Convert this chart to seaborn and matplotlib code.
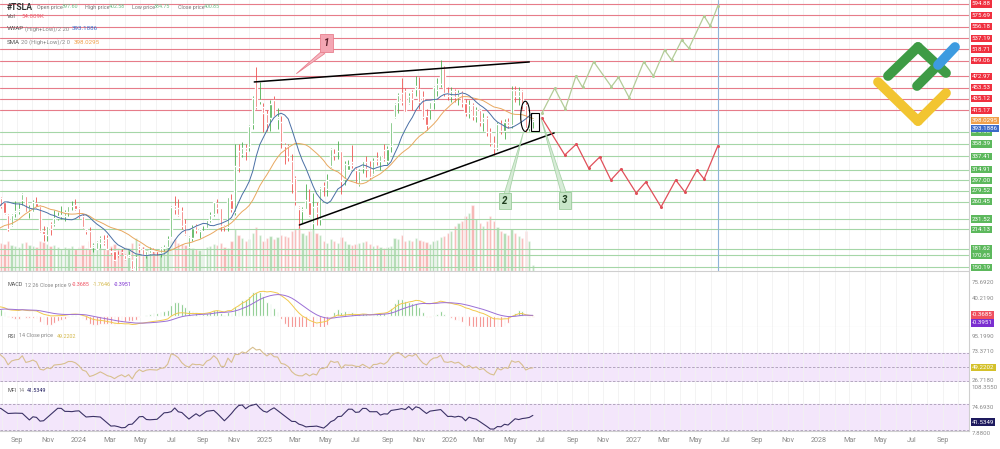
import numpy as np
import pandas as pd
import seaborn as sns
import matplotlib.pyplot as plt
import matplotlib.dates as mdates
from matplotlib.patches import Ellipse, Rectangle, Polygon
from matplotlib.lines import Line2D

sns.set_theme(style="white")
plt.rcParams['font.family'] = ['Roboto', 'DejaVu Sans']

# weekly candles, Feb 2023 .. Jun 2026 (first weeks only warm up the indicators)
opens = [196, 199, 204, 202, 198, 177, 181, 191, 199, 185, 187, 164, 161, 170, 168, 180, 200, 217, 248, 255, 250, 277, 276, 284, 255, 267,
         260, 239, 221, 242, 245, 264, 270, 243, 244, 258, 253, 211, 205, 223, 223, 234, 237, 236, 243, 253, 255,
         250, 236, 215, 212, 185, 180, 191, 196, 200, 178, 177, 171, 176, 171, 168, 162, 143, 186, 181, 170, 174, 179, 178, 174, 182, 185,
         201, 253, 250, 245, 223, 185, 200, 220, 212, 210, 216, 229, 240, 259, 250, 220, 218, 264, 244, 346, 341, 352, 353, 392, 465, 431, 420,
         409, 403, 432, 400, 396, 356, 355, 330, 300, 252, 245, 249, 260, 224, 253, 231, 288, 282, 321, 342, 346, 346, 299, 315, 327, 320,
         291, 318, 328, 319, 308, 335, 330, 348, 330, 355, 404, 430, 444, 447, 428, 446, 451, 452, 438, 406, 417, 430, 450, 460, 487, 444,
         440, 448, 437, 445, 428, 410, 425, 405, 415, 395, 402, 378, 360, 352, 392, 380, 396, 390, 450, 440, 448, 425, 385, 397.60]
highs = [218, 217, 210, 211, 199, 186, 200, 207, 203, 190, 190, 165, 171, 175, 181, 194, 217, 246, 262, 276, 264, 284, 299, 292, 276, 269,
         261, 240, 240, 262, 258, 276, 271, 256, 264, 268, 256, 220, 220, 226, 246, 244, 253, 246, 254, 262, 265,
         251, 240, 215, 218, 191, 194, 202, 205, 205, 183, 177, 177, 181, 172, 178, 162, 171, 188, 185, 177, 185, 182, 178, 184, 188, 203,
         253, 271, 266, 252, 232, 203, 222, 223, 215, 220, 232, 243, 261, 265, 250, 222, 262, 273, 358, 358, 361, 358, 390, 439, 488, 463, 428,
         416, 433, 439, 419, 405, 360, 359, 342, 305, 253, 251, 291, 283, 275, 261, 286, 294, 307, 351, 350, 363, 347, 330, 332, 357, 320,
         316, 330, 338, 330, 335, 345, 340, 358, 355, 396, 428, 444, 470, 453, 445, 450, 474, 471, 448, 418, 430, 456, 470, 500, 490, 455,
         455, 452, 450, 448, 435, 432, 428, 420, 418, 410, 405, 385, 372, 395, 398, 400, 402, 456, 456, 454, 450, 430, 400, 402.58]
lows = [187, 194, 192, 186, 172, 168, 176, 186, 183, 179, 162, 152, 158, 166, 164, 175, 191, 216, 245, 252, 240, 262, 267, 255, 255, 250,
        240, 212, 220, 235, 240, 255, 244, 234, 244, 250, 210, 194, 195, 204, 219, 230, 231, 228, 236, 246, 247,
        234, 217, 207, 180, 175, 180, 183, 188, 180, 172, 160, 168, 173, 163, 166, 146, 148, 175, 171, 166, 173, 174, 171, 168, 178, 181,
        201, 240, 237, 214, 205, 182, 195, 208, 200, 209, 214, 227, 237, 242, 212, 211, 212, 244, 238, 311, 337, 332, 347, 384, 418, 426, 379,
        380, 380, 405, 384, 351, 324, 330, 276, 256, 217, 224, 250, 236, 214, 222, 222, 270, 271, 320, 331, 333, 273, 289, 316, 317, 292,
        288, 309, 302, 299, 306, 323, 315, 329, 325, 345, 403, 411, 425, 413, 426, 415, 439, 417, 400, 382, 400, 418, 440, 455, 440, 432,
        430, 430, 425, 420, 405, 402, 398, 395, 388, 380, 372, 355, 340, 348, 375, 366, 385, 386, 430, 425, 418, 378, 380, 384.75]
closes = [196, 208, 196, 198, 173, 180, 190, 207, 185, 185, 165, 164, 170, 168, 180, 193, 214, 244, 260, 256, 262, 274, 281, 260, 266, 253,
          242, 215, 238, 245, 248, 274, 244, 250, 260, 251, 212, 207, 219, 214, 234, 236, 238, 243, 253, 253, 248,
          237, 218, 212, 183, 187, 193, 200, 191, 180, 175, 163, 170, 175, 164, 171, 147, 168, 181, 171, 177, 179, 178, 177, 183, 184, 197,
          252, 248, 239, 220, 207, 201, 216, 213, 214, 210, 230, 238, 261, 250, 219, 218, 269, 248, 321, 320, 352, 346, 389, 436, 421, 431, 410,
          394, 426, 406, 404, 361, 355, 337, 293, 262, 249, 248, 263, 239, 252, 241, 284, 287, 298, 349, 339, 346, 295, 325, 322, 323, 315,
          313, 329, 316, 302, 329, 330, 340, 333, 350, 395, 426, 441, 429, 413, 439, 434, 457, 429, 404, 391, 430, 455, 460, 487, 444, 440,
          448, 437, 445, 428, 410, 425, 405, 415, 395, 402, 378, 360, 352, 392, 380, 396, 390, 450, 440, 448, 425, 385, 397.60, 400.85]
volumes = [32, 30, 28, 30, 33, 31, 30, 29, 28, 27, 30, 29, 28, 26, 27, 29, 31, 35, 36, 34, 33, 32, 34, 30, 29, 28,
           27, 30, 26, 25, 24, 28, 29, 26, 25, 24, 30, 29, 27, 25, 26, 24, 22, 24, 23, 25, 22,
           24, 26, 23, 30, 27, 24, 23, 22, 24, 25, 27, 23, 22, 24, 23, 28, 33, 28, 24, 22, 21, 20, 21, 22, 24, 25, 30,
           32, 28, 27, 26, 27, 23, 22, 21, 22, 24, 25, 27, 26, 28, 24, 23, 30, 42, 36, 33, 30, 32, 38, 44, 36, 30,
           33, 35, 32, 34, 36, 35, 34, 40, 42, 44, 38, 36, 40, 42, 38, 36, 30, 28, 32, 30, 28, 34, 30, 27, 26, 27,
           28, 29, 30, 27, 25, 26, 24, 23, 24, 25, 33, 32, 36, 30, 31, 30, 33, 31, 30, 29, 27, 30, 31, 34, 35, 38,
           40, 45, 48, 50, 55, 58, 66, 52, 48, 45, 50, 55, 50, 44, 40, 38, 36, 42, 38, 35, 33, 40, 30, 6]

red_levels = [594.88, 575.69, 556.18, 537.19, 518.71, 499.06, 472.97, 453.53, 435.12, 415.17]
green_levels = [378.65, 358.39, 337.41, 314.91, 297.00, 279.52, 260.45, 231.52, 214.13, 181.62, 170.65, 150.19]

upper_line_dates = ['2024-12-12', '2026-06-08']
upper_line_prices = [463.1, 496.9]
lower_line_dates = ['2025-03-11', '2026-07-27']
lower_line_prices = [221.4, 376.9]

bull_dates = ['2026-07-03', '2026-07-28', '2026-08-18', '2026-09-08', '2026-09-21', '2026-10-13', '2026-11-17', '2026-12-01',
              '2026-12-22', '2027-01-20', '2027-02-08', '2027-03-02', '2027-03-16', '2027-04-05', '2027-04-19', '2027-05-19',
              '2027-05-31', '2027-06-15']
bull_prices = [410.7, 452.4, 417.4, 473.2, 454.1, 497.4, 455.1, 471.0, 436.5, 497.4, 473.2, 517.1, 500.2, 534.0, 520.0, 574.6,
               557.7, 591.5]
bear_dates = ['2026-07-03', '2026-08-17', '2026-09-09', '2026-10-03', '2026-10-25', '2026-11-16', '2026-12-06', '2027-01-05',
              '2027-01-24', '2027-02-23', '2027-03-24', '2027-04-11', '2027-05-05', '2027-05-19', '2027-06-15']
bear_prices = [402.2, 339.7, 358.3, 317.7, 336.3, 297.4, 316.0, 275.5, 294.1, 251.8, 297.4, 277.2, 314.3, 299.1, 354.9]

df = pd.DataFrame({'o': opens, 'h': highs, 'l': lows, 'c': closes, 'v': volumes},
                  index=pd.date_range('2023-02-06', periods=len(closes), freq='W-MON'))
mid = (df['h'] + df['l']) / 2
df['sma'] = mid.rolling(20).mean()
# the terminal's VWAP line reacts faster than the SMA; a 10-bar weighting follows it best
df['vwap'] = (mid * df['v']).rolling(10).sum() / df['v'].rolling(10).sum()
ema12 = df['c'].ewm(span=12, adjust=False).mean()
ema26 = df['c'].ewm(span=26, adjust=False).mean()
df['macd'] = ema12 - ema26
df['sig'] = df['macd'].ewm(span=9, adjust=False).mean()
df['histo'] = df['macd'] - df['sig']
delta = df['c'].diff()
gain = delta.clip(lower=0).ewm(alpha=1 / 14, adjust=False).mean()
loss = (-delta.clip(upper=0)).ewm(alpha=1 / 14, adjust=False).mean()
df['rsi'] = 100 - 100 / (1 + gain / loss)
tp = (df['h'] + df['l'] + df['c']) / 3
mf = tp * df['v']
pos = mf.where(tp > tp.shift(), 0).rolling(14).sum()
neg = mf.where(tp < tp.shift(), 0).rolling(14).sum()
df['mfi'] = 100 - 100 / (1 + pos / neg)
df = df.loc['2023-07-20':]
d = df.index

GREEN, RED = '#4caf50', '#ef5350'
col = np.where(df['c'] >= df['o'], GREEN, RED)

W, H, R = 1000, 449, 969
fig = plt.figure(figsize=(10, 4.49), dpi=100)


def box(top, bottom):
    return [0, 1 - bottom / H, R / W, (bottom - top) / H]


def dn(s):
    return mdates.date2num(pd.Timestamp(s))


ax = fig.add_axes(box(0, 271))
axm = fig.add_axes(box(272, 327), sharex=ax)
axr = fig.add_axes(box(327, 382), sharex=ax)
axf = fig.add_axes(box(382, 431), sharex=ax)

# volume
axv = ax.twinx()
axv.bar(d, df['v'], width=4.6, color=col, alpha=0.45)
axv.set_ylim(0, df['v'].max() / 0.245)
axv.set_yticks([])
axv.set_zorder(0)
ax.set_zorder(1)
ax.patch.set_visible(False)
for s in axv.spines.values():
    s.set_visible(False)

for lv in red_levels:
    ax.axhline(lv, color='#e67c89', lw=0.8, zorder=1)
for lv in green_levels:
    ax.axhline(lv, color='#a5d6a7', lw=0.8, zorder=1)

ax.vlines(d, df['l'], df['h'], color=col, lw=0.6, zorder=3)
ax.bar(d, (df['c'] - df['o']).abs().clip(lower=0.8), bottom=np.minimum(df['o'], df['c']),
       width=4.2, color=col, zorder=3)
sns.lineplot(x=d, y=df['sma'], ax=ax, color='#e8a860', lw=0.7, zorder=4)
sns.lineplot(x=d, y=df['vwap'], ax=ax, color='#4a6fa5', lw=0.7, zorder=4)

ax.plot(pd.to_datetime(upper_line_dates), upper_line_prices, color='black', lw=1.1, zorder=5)
ax.plot(pd.to_datetime(lower_line_dates), lower_line_prices, color='black', lw=1.1, zorder=5)
ax.plot(pd.to_datetime(bull_dates), bull_prices, color='#b3cc98', lw=0.9, zorder=5, marker='o', ms=1.2)
ax.plot(pd.to_datetime(bear_dates), bear_prices, color='#e0505a', lw=0.9, zorder=5, marker='o', ms=1.2)
ax.axvline(pd.Timestamp('2027-06-15'), color='#8fb3d9', lw=0.8, zorder=2)

ax.add_patch(Ellipse((dn('2026-05-31'), 405), 18, 51, fill=False, ec='black', lw=0.8, zorder=6))
ax.add_patch(Rectangle((dn('2026-06-12'), 380), 16, 31, fill=False, ec='black', lw=0.8, zorder=6))

# callouts
ax.add_patch(Polygon([(dn('2025-03-05'), 477), (dn('2025-04-24'), 515), (dn('2025-04-30'), 511)],
                     closed=True, fc='#f6b8c2', ec='#e8808e', lw=0.6, zorder=6))
ax.text(dn('2025-05-04'), 529, '1', fontsize=7, fontweight='bold', style='italic', color='#5a1f2a',
        ha='center', va='center', zorder=7,
        bbox=dict(boxstyle='square,pad=0.4', fc='#f4a6b3', ec='#e8808e', lw=0.6))
ax.add_patch(Polygon([(dn('2026-05-27'), 377), (dn('2026-04-17'), 268), (dn('2026-04-27'), 268)],
                     closed=True, fc='#cfe8cf', ec='#9ccc9c', lw=0.6, zorder=6, alpha=0.8))
ax.text(dn('2026-04-21'), 262, '2', fontsize=7, fontweight='bold', style='italic', color='#1e3d1e',
        ha='center', va='center', zorder=7,
        bbox=dict(boxstyle='square,pad=0.35', fc='#c8e6c9', ec='#9ccc9c', lw=0.6))
ax.add_patch(Polygon([(dn('2026-07-01'), 402), (dn('2026-08-12'), 268), (dn('2026-08-23'), 268)],
                     closed=True, fc='#cfe8cf', ec='#9ccc9c', lw=0.6, zorder=6, alpha=0.8))
ax.text(dn('2026-08-17'), 263, '3', fontsize=7, fontweight='bold', style='italic', color='#1e3d1e',
        ha='center', va='center', zorder=7,
        bbox=dict(boxstyle='square,pad=0.35', fc='#c8e6c9', ec='#9ccc9c', lw=0.6))

ax.set_ylim(143.65, 601.6)
ax.set_xlim(pd.Timestamp('2023-07-29'), pd.Timestamp('2028-10-23'))

# MACD (histogram drawn at 3x, as it is scaled on the reference terminal)
axm.bar(d, df['histo'] * 3, width=3.6, color=np.where(df['histo'] >= 0, GREEN, RED), alpha=0.9)
sns.lineplot(x=d, y=df['macd'], ax=axm, color='#f2c94c', lw=0.7)
sns.lineplot(x=d, y=df['sig'], ax=axm, color='#9b6fd6', lw=0.7)
axm.set_ylim(-24.1, 97.9)

# RSI
axr.axhspan(30, 70, color='#f3e6fb', zorder=0)
for lv in (30, 50, 70):
    axr.axhline(lv, color='#a89bb5', lw=0.6, ls=(0, (3, 2)))
sns.lineplot(x=d, y=df['rsi'], ax=axr, color='#d8bf8f', lw=0.8)
axr.set_ylim(28.3, 108.3)

# MFI
axf.axhspan(20, 80, color='#f3e6fb', zorder=0)
for lv in (20, 80):
    axf.axhline(lv, color='#a89bb5', lw=0.6, ls=(0, (3, 2)))
sns.lineplot(x=d, y=df['mfi'], ax=axf, color='#3b3266', lw=0.8)
axf.set_ylim(17.6, 130)

months = mdates.MonthLocator(bymonth=[1, 3, 5, 7, 9, 11])
axf.xaxis.set_major_locator(months)
axf.xaxis.set_minor_locator(mdates.MonthLocator())
axf.xaxis.set_major_formatter(plt.FuncFormatter(
    lambda v, p: mdates.num2date(v).strftime('%Y') if mdates.num2date(v).month == 1 else mdates.num2date(v).strftime('%b')))
for a in (ax, axm, axr, axf):
    a.set_xlabel('')
    a.set_ylabel('')
    a.set_yticks([])
    a.grid(axis='x', which='both', color='#f1f1f1', lw=0.6)
    for s in ('left', 'top'):
        a.spines[s].set_visible(False)
    a.spines['right'].set_color('#cfcfcf')
    a.spines['bottom'].set_color('#cfcfcf')
    a.spines['right'].set_linewidth(0.8)
    a.spines['bottom'].set_linewidth(0.8)
    a.tick_params(axis='x', which='both', length=0)
for a in (ax, axm, axr):
    a.tick_params(labelbottom=False)
axf.tick_params(axis='x', labelsize=5.2, labelcolor='#8a8a8a', pad=4)


def tag(a, y, text, fc, tc='white'):
    a.text(1.003, y, text, transform=a.get_yaxis_transform(), fontsize=4.4, color=tc,
           ha='left', va='center', clip_on=False,
           bbox=dict(boxstyle='square,pad=0.18', fc=fc, ec='none') if fc else None)


for lv in red_levels:
    tag(ax, lv, f'{lv:.2f}', '#f0303f')
for lv in green_levels:
    tag(ax, lv, f'{lv:.2f}', '#5cb85c')
tag(ax, 398.0295, '398.0295', '#f0a04b')
tag(ax, 385.0, '393.1886', '#3c6bc9')
tag(axm, 75.692, '75.6920', None, '#8a8a8a')
tag(axm, 40.219, '40.2190', None, '#8a8a8a')
tag(axm, 2.6, '-0.3685', '#ef4f5f')
tag(axm, -15.2, '-0.3951', '#7b2fd0')
tag(axr, 95.199, '95.1990', None, '#8a8a8a')
tag(axr, 73.371, '73.3710', None, '#8a8a8a')
tag(axr, 49.2202, '49.2202', '#d4c12a')
tag(axr, 30.0, '26.7180', None, '#8a8a8a')
tag(axf, 118.5, '108.3550', None, '#8a8a8a')
tag(axf, 72.6, '74.6930', None, '#8a8a8a')
tag(axf, 38.2, '41.5349', '#1e1a5e')
tag(axf, 11.0, '7.8800', None, '#8a8a8a')

# header
fs = 3.9
fig.text(7 / W, 1 - 7 / H, '#TSLA', fontsize=6.2, fontweight='bold', color='#333333', va='center')
for name, nx, val, vx in [('Open price', 37, '397.60', 62), ('High price', 85, '402.58', 109),
                          ('Low price', 132, '384.75', 154), ('Close price', 178, '400.85', 204)]:
    fig.text(nx / W, 1 - 7 / H, name, fontsize=fs, color='#777777', va='center')
    fig.text(vx / W, 1 - 7 / H, val, fontsize=fs, color='#6cc08a', va='center')
fig.text(7 / W, 1 - 17 / H, 'Vol', fontsize=4.4, color='#555555', va='center')
fig.text(21 / W, 1 - 17 / H, '54.809K', fontsize=4.4, color='#ef5f6f', va='center')
fig.text(7 / W, 1 - 29 / H, 'VWAP', fontsize=4.4, color='#555555', va='center')
fig.text(25 / W, 1 - 29 / H, '(High+Low)/2 20', fontsize=4.2, color='#888888', va='center')
fig.text(72 / W, 1 - 29 / H, '393.1886', fontsize=4.4, color='#3c6bc9', va='center')
fig.text(7 / W, 1 - 42 / H, 'SMA', fontsize=4.4, color='#555555', va='center')
fig.text(21 / W, 1 - 42 / H, '20 (High+Low)/2 0', fontsize=4.2, color='#888888', va='center')
fig.text(74 / W, 1 - 42 / H, '398.0295', fontsize=4.4, color='#f0a04b', va='center')
fig.text(8 / W, 1 - 285 / H, 'MACD', fontsize=fs, color='#555555', va='center')
fig.text(25 / W, 1 - 285 / H, '12 26 Close price 9', fontsize=fs, color='#888888', va='center')
fig.text(72 / W, 1 - 285 / H, '-0.3685', fontsize=fs, color='#ef4f5f', va='center')
fig.text(93 / W, 1 - 285 / H, '-1.7646', fontsize=fs, color='#d4b84a', va='center')
fig.text(114 / W, 1 - 285 / H, '-0.3951', fontsize=fs, color='#7b2fd0', va='center')
fig.text(8 / W, 1 - 336 / H, 'RSI', fontsize=fs, color='#555555', va='center')
fig.text(19 / W, 1 - 336 / H, '14 Close price', fontsize=fs, color='#888888', va='center')
fig.text(57 / W, 1 - 336 / H, '49.2202', fontsize=fs, color='#d4b84a', va='center')
fig.text(8 / W, 1 - 390 / H, 'MFI', fontsize=fs, color='#555555', va='center')
fig.text(19 / W, 1 - 390 / H, '14', fontsize=fs, color='#888888', va='center')
fig.text(27 / W, 1 - 390 / H, '41.5349', fontsize=fs, color='#1e1a5e', va='center')

# logo
for (x0, y0, x1, y1, c) in [(888, 76, 918, 47, '#3e9b45'), (918, 47, 946, 73, '#3e9b45'),
                            (917, 86, 938, 65, '#3e9b45'), (938, 65, 955, 47, '#3d9be0'),
                            (878, 82, 918, 121, '#f2c531'), (918, 121, 946, 93, '#f2c531')]:
    fig.add_artist(Line2D([x0 / W, x1 / W], [1 - y0 / H, 1 - y1 / H], lw=7, color=c,
                          solid_capstyle='round'))

fig.savefig('out.png', dpi=100)
